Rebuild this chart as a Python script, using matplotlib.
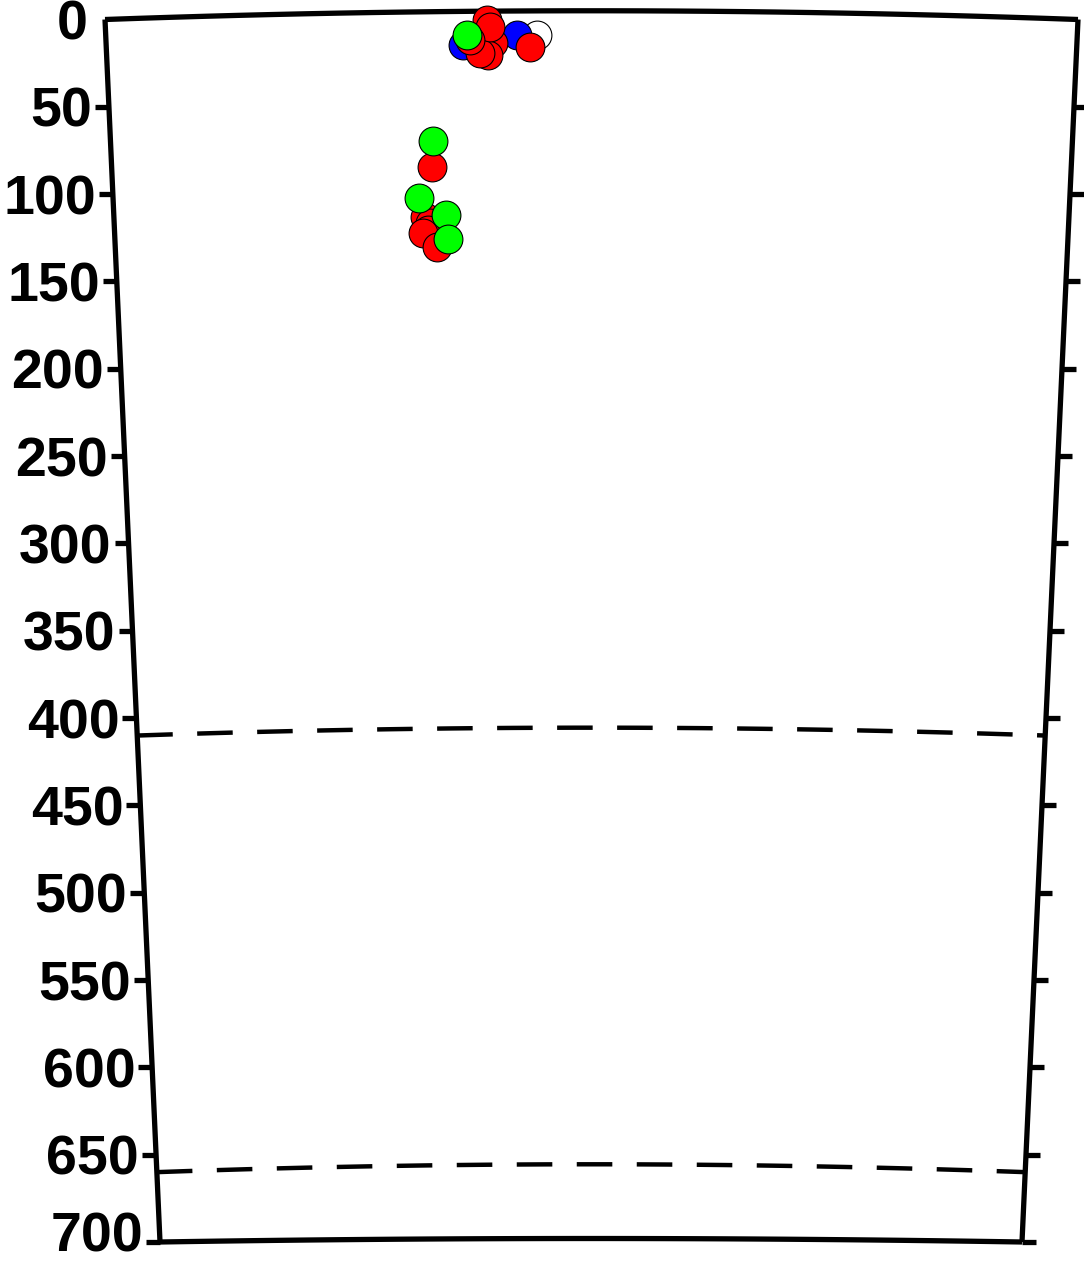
import matplotlib
matplotlib.use("Agg")
import matplotlib.pyplot as plt
import matplotlib.transforms as mtransforms
import numpy as np

# === Data (x is relative position across the section, depth in m) ===
white_x = [0.443]
white_d = [8.9]

blue_x = [0.423, 0.367]
blue_d = [8.9, 14.6]

red_x = [0.392, 0.398, 0.393, 0.385, 0.395, 0.374, 0.436,
         0.335, 0.328, 0.333, 0.331, 0.326, 0.341]
red_d = [0.0, 13.5, 20.3, 19.2, 4.3, 11.7, 15.8,
         84.5, 113.2, 116.6, 120.6, 122.3, 130.4]

green_x = [0.371, 0.336, 0.322, 0.350, 0.352]
green_d = [8.9, 69.6, 102.3, 112.0, 125.8]

depth_ticks = list(range(0, 701, 50))
dashed_depths = [410, 660]
max_depth = 700

# === Frame geometry (hand drawn, narrowing with depth) ===
W, H = 1084, 1265
ax_left_px, ax_right_px = 105, 1080
ax_top_px, ax_bot_px = 19.5, 1242


def px(p):
    return p / (ax_right_px - ax_left_px)


def left_edge(d):
    return px(0 + 55 * d / max_depth)


def right_edge(d):
    return px(1078 - ax_left_px - 56 * d / max_depth)


def bowed(d, sag):
    # slightly bowed horizontal stroke, like the hand drawn original
    xs = np.linspace(left_edge(d), right_edge(d), 30)
    t = (xs - xs[0]) / (xs[-1] - xs[0])
    return xs, d - sag * 4 * t * (1 - t)


fig = plt.figure(figsize=(W / 100, H / 100), dpi=100)
ax = fig.add_axes([ax_left_px / W, (H - ax_bot_px) / H,
                   (ax_right_px - ax_left_px) / W, (ax_bot_px - ax_top_px) / H])
ax.set_xlim(0, 1)
ax.set_ylim(max_depth, 0)
ax.axis('off')

lw = 3.8
kw = dict(color='black', lw=lw, clip_on=False, solid_capstyle='butt')

# frame
ax.plot(*bowed(0, 5), **kw)
ax.plot(*bowed(max_depth, 2), **kw)
ax.plot([left_edge(0), left_edge(max_depth)], [0, max_depth], **kw)
ax.plot([right_edge(0), right_edge(max_depth)], [0, max_depth], **kw)

# ticks and labels
for d in depth_ticks:
    xl = left_edge(d)
    xr = right_edge(d)
    if d > 0:
        ax.plot([xl - px(14), xl], [d, d], **kw)
        ax.plot([xr, xr + px(14)], [d, d], **kw)
    # keep the bottom label inside the canvas
    tr = ax.transData
    if d == max_depth:
        tr = mtransforms.offset_copy(ax.transData, fig=fig, y=10, units='dots')
    ax.text(xl - px(17), d, str(d), ha='right', va='center_baseline',
            fontsize=40, fontweight='bold', family='Liberation Sans',
            clip_on=False, transform=tr)

# dashed reference lines
for d in dashed_depths:
    ax.plot(*bowed(d, 4.5), color='black', lw=3.2,
            dashes=(8, 5.5), clip_on=False)

# points
sty = dict(s=430, edgecolors='black', linewidths=0.8, zorder=3, clip_on=False)
ax.scatter(white_x, white_d, c='white', **sty)
ax.scatter(blue_x, blue_d, c='#0000ff', **sty)
ax.scatter(red_x, red_d, c='#ff0000', **sty)
ax.scatter(green_x, green_d, c='#00ff00', **sty)

fig.savefig("out.png", dpi=100)
